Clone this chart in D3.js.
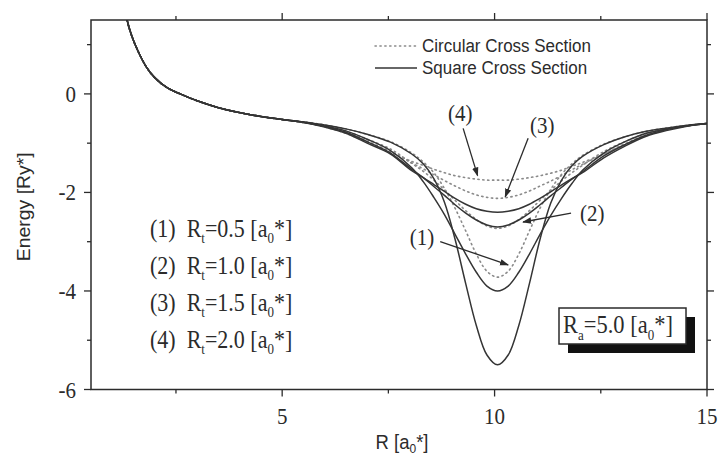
<!DOCTYPE html>
<html><head><meta charset="utf-8">
<script src="https://cdn.jsdelivr.net/npm/d3@7"></script>
<style>body{margin:0;background:#fff}svg{display:block}</style>
</head><body><svg id="c" width="721" height="464"></svg>
<script>
// ---- data ----
const commonR = [1.25, 1.35, 1.45, 1.6, 1.8, 2.0, 2.3, 2.6, 3.0, 3.5, 4.0, 4.5];
const commonE = [2.1, 1.5, 1.2, 0.88, 0.55, 0.33, 0.12, 0.0, -0.14, -0.28, -0.38, -0.46];
const wellR = [5, 5.5, 6, 6.5, 7, 7.55, 8.05, 8.32, 8.57, 8.82, 9.07, 9.32, 9.57, 9.82, 10.07, 10.32, 10.57, 10.82, 11.07, 11.32, 11.57, 11.82, 12.07, 12.57, 13.07, 13.57, 14.07, 14.5, 15];
const square1 = [-0.52,-0.57,-0.63,-0.71,-0.82,-0.98,-1.22,-1.42,-1.72,-2.2,-2.95,-3.85,-4.7,-5.3,-5.5,-5.3,-4.7,-3.85,-2.95,-2.22,-1.76,-1.46,-1.27,-1.03,-0.87,-0.76,-0.69,-0.64,-0.6];
const square2 = [-0.52,-0.57,-0.65,-0.75,-0.92,-1.15,-1.5,-1.78,-2.1,-2.45,-2.85,-3.25,-3.62,-3.9,-4.0,-3.9,-3.62,-3.25,-2.85,-2.47,-2.13,-1.82,-1.55,-1.2,-0.97,-0.8,-0.71,-0.65,-0.6];
const square3 = [-0.52,-0.58,-0.66,-0.78,-0.97,-1.2,-1.53,-1.7,-1.88,-2.06,-2.25,-2.42,-2.56,-2.66,-2.7,-2.66,-2.56,-2.42,-2.25,-2.07,-1.9,-1.73,-1.58,-1.26,-1.03,-0.84,-0.72,-0.65,-0.6];
const square4 = [-0.52,-0.58,-0.67,-0.8,-1.0,-1.22,-1.56,-1.7,-1.84,-1.98,-2.12,-2.24,-2.33,-2.38,-2.4,-2.38,-2.33,-2.24,-2.12,-1.99,-1.85,-1.72,-1.6,-1.3,-1.06,-0.86,-0.74,-0.66,-0.6];
const circle1 = [-0.52,-0.57,-0.63,-0.71,-0.82,-0.97,-1.2,-1.38,-1.6,-1.92,-2.32,-2.78,-3.25,-3.6,-3.72,-3.6,-3.25,-2.78,-2.32,-1.94,-1.64,-1.42,-1.25,-1.02,-0.87,-0.76,-0.69,-0.64,-0.6];
const circle2 = [-0.52,-0.57,-0.65,-0.76,-0.92,-1.12,-1.41,-1.57,-1.75,-1.95,-2.16,-2.37,-2.55,-2.68,-2.73,-2.68,-2.55,-2.37,-2.16,-1.96,-1.77,-1.6,-1.45,-1.17,-0.97,-0.8,-0.7,-0.65,-0.6];
const circle3 = [-0.52,-0.58,-0.66,-0.78,-0.96,-1.17,-1.4,-1.52,-1.64,-1.76,-1.87,-1.97,-2.05,-2.1,-2.12,-2.1,-2.05,-1.97,-1.87,-1.77,-1.66,-1.54,-1.43,-1.22,-1.01,-0.83,-0.71,-0.65,-0.6];
const circle4 = [-0.52,-0.58,-0.67,-0.8,-0.98,-1.18,-1.37,-1.45,-1.53,-1.6,-1.66,-1.7,-1.73,-1.75,-1.75,-1.75,-1.73,-1.7,-1.66,-1.61,-1.55,-1.47,-1.39,-1.22,-1.03,-0.85,-0.72,-0.65,-0.6];
const xMajor = [5, 10, 15];
const xMinor = [2.5, 7.5, 12.5];
const yMajor = [-6, -4, -2, 0];
const yMinor = [-5, -3, -1, 1];
const rtValues = ["0.5", "1.0", "1.5", "2.0"];
const seriesNames = ["Circular Cross Section", "Square Cross Section"];
const arrowLabels = ["(4)", "(3)", "(2)", "(1)"];
const arrowLabelPos = [[9.19,-0.39],[11.12,-0.63],[12.3,-2.42],[8.29,-2.91]];
const arrowFrom = [[9.26,-0.7],[10.79,-0.9],[11.8,-2.42],[8.72,-3.0]];
const arrowTo = [[9.6,-1.66],[10.25,-2.09],[10.67,-2.6],[10.32,-3.47]];

// ---- chart ----
const svg = d3.select("#c");
const L = 91, R = 707, T = 20, B = 389.5;
const x = d3.scaleLinear().domain([0.5, 15]).range([L, R]);
const y = d3.scaleLinear().domain([-6, 1.5]).range([B, T]);
const ink = "#2b2b2b";
const serif = "'Liberation Serif','Times New Roman',serif";
const sans = "'Liberation Sans',Arial,sans-serif";
const SY = 1.12; // vertical stretch of glyphs seen in the scan

function stext(px, py, size, family, anchor){
  return svg.append("text").attr("transform",`translate(${px},${py}) scale(1,${SY})`)
    .attr("text-anchor",anchor||"start").attr("font-family",family).attr("font-size",size).attr("fill",ink);
}

const defs = svg.append("defs");
defs.append("clipPath").attr("id","clip")
  .append("rect").attr("x",L).attr("y",T).attr("width",R-L).attr("height",B-T);
defs.append("marker").attr("id","ah").attr("viewBox","0 0 10 10").attr("refX",9).attr("refY",5)
  .attr("markerWidth",7).attr("markerHeight",7).attr("orient","auto")
  .append("path").attr("d","M0,1.5L10,5L0,8.5Z").attr("fill",ink);

function build(vals){
  const pts = commonR.map((r,i)=>[r, commonE[i]]);
  wellR.forEach((r,i)=>pts.push([r, vals[i]]));
  return pts;
}
const line = d3.line().x(d=>x(d[0])).y(d=>y(d[1])).curve(d3.curveCatmullRom.alpha(0.5));
const g = svg.append("g").attr("clip-path","url(#clip)");
[circle1,circle2,circle3,circle4].forEach(v=>{
  g.append("path").attr("d",line(build(v))).attr("fill","none")
   .attr("stroke","#8a8a8a").attr("stroke-width",1.6).attr("stroke-dasharray","1.3 3.6").attr("stroke-linecap","round");
});
[square1,square2,square3,square4].forEach(v=>{
  g.append("path").attr("d",line(build(v))).attr("fill","none")
   .attr("stroke","#353535").attr("stroke-width",1.5);
});

// frame
svg.append("rect").attr("x",L).attr("y",T).attr("width",R-L).attr("height",B-T)
  .attr("fill","none").attr("stroke",ink).attr("stroke-width",1.5);
// ticks
const tk = svg.append("g").attr("stroke",ink).attr("stroke-width",1.3);
xMajor.forEach(v=>{
  tk.append("line").attr("x1",x(v)).attr("x2",x(v)).attr("y1",B).attr("y2",B+7);
  tk.append("line").attr("x1",x(v)).attr("x2",x(v)).attr("y1",T).attr("y2",T-7);
});
xMinor.forEach(v=>{
  tk.append("line").attr("x1",x(v)).attr("x2",x(v)).attr("y1",B).attr("y2",B+4);
  tk.append("line").attr("x1",x(v)).attr("x2",x(v)).attr("y1",T).attr("y2",T-4);
});
yMajor.forEach(v=>{
  tk.append("line").attr("y1",y(v)).attr("y2",y(v)).attr("x1",L).attr("x2",L-7);
  tk.append("line").attr("y1",y(v)).attr("y2",y(v)).attr("x1",R).attr("x2",R+7);
});
yMinor.forEach(v=>{
  tk.append("line").attr("y1",y(v)).attr("y2",y(v)).attr("x1",L).attr("x2",L-4);
  tk.append("line").attr("y1",y(v)).attr("y2",y(v)).attr("x1",R).attr("x2",R+4);
});
// tick labels
xMajor.forEach(v=>{ stext(x(v), B+34, 21, serif, "middle").text(v); });
yMajor.forEach(v=>{ stext(L-15, y(v)+8, 21, serif, "end").text(v); });
// axis titles
const xt = stext((L+R)/2+3, 449, 18.5, sans, "middle");
xt.append("tspan").text("R [a");
xt.append("tspan").attr("font-size",12).attr("dy",4).text("0");
xt.append("tspan").attr("dy",-4).text("*]");
svg.append("text").attr("transform",`translate(30,${(T+B)/2+2}) rotate(-90) scale(1.05,1)`).attr("text-anchor","middle")
  .attr("font-family",sans).attr("font-size",18.5).attr("fill",ink).text("Energy [Ry*]");

// legend (top right)
[0,1].forEach(i=>{
  const yy = 46 + i*22;
  svg.append("line").attr("x1",375).attr("x2",417).attr("y1",yy).attr("y2",yy)
    .attr("stroke", i===0? "#8a8a8a":"#353535").attr("stroke-width",1.5)
    .attr("stroke-dasharray", i===0? "1.3 3.6":null).attr("stroke-linecap", i===0?"round":"butt");
  stext(422, yy+6, 17, sans).text(seriesNames[i]);
});

// Rt list
rtValues.forEach((v,i)=>{
  const t = stext(150, 237 + i*37, 22, serif).attr("xml:space","preserve");
  t.append("tspan").text(`(${i+1})  R`);
  t.append("tspan").attr("font-size",13).attr("dy",5).text("t");
  t.append("tspan").attr("dy",-5).text(`=${v} [a`);
  t.append("tspan").attr("font-size",13).attr("dy",5).text("0");
  t.append("tspan").attr("dy",-5).text("*]");
});

// arrows
arrowLabels.forEach((lab,i)=>{
  stext(x(arrowLabelPos[i][0]), y(arrowLabelPos[i][1])+8, 21, serif, "middle").text(lab);
  svg.append("line").attr("x1",x(arrowFrom[i][0])).attr("y1",y(arrowFrom[i][1]))
    .attr("x2",x(arrowTo[i][0])).attr("y2",y(arrowTo[i][1]))
    .attr("stroke",ink).attr("stroke-width",1.3).attr("marker-end","url(#ah)");
});

// Ra box
const bx = 559, by = 308, bw = 127, bh = 36;
svg.append("rect").attr("x",bx+9).attr("y",by+9).attr("width",bw).attr("height",bh).attr("fill","#111");
svg.append("rect").attr("x",bx).attr("y",by).attr("width",bw).attr("height",bh)
  .attr("fill","#fff").attr("stroke",ink).attr("stroke-width",1.5);
const rb = stext(bx+4, by+25, 22.5, serif);
rb.append("tspan").text("R");
rb.append("tspan").attr("font-size",13).attr("dy",6).text("a");
rb.append("tspan").attr("dy",-6).text("=5.0 [a");
rb.append("tspan").attr("font-size",13).attr("dy",6).text("0");
rb.append("tspan").attr("dy",-6).text("*]");
</script></body></html>
